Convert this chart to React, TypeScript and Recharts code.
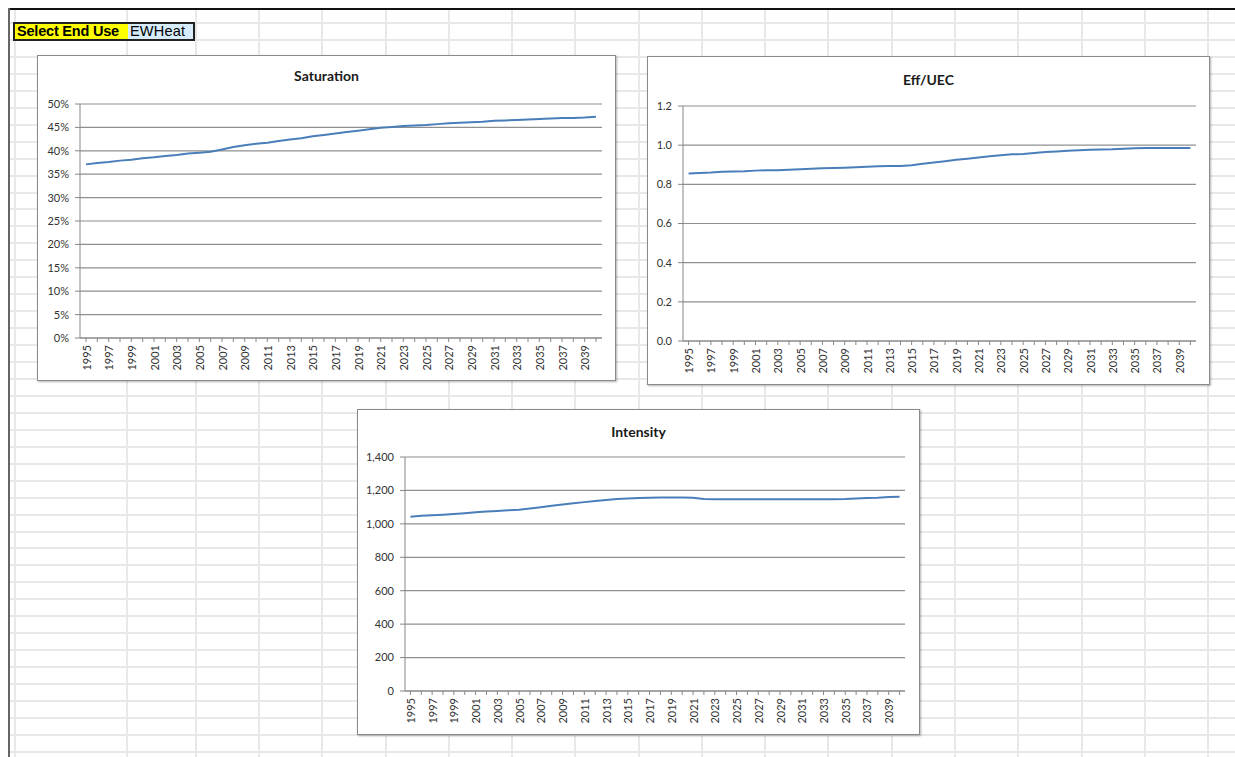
import React from 'react'
import { LineChart, Line, XAxis, YAxis, CartesianGrid } from 'recharts'

const FONT = 'Lato, "Open Sans", sans-serif'

const years = [
  1995, 1996, 1997, 1998, 1999, 2000, 2001, 2002, 2003, 2004,
  2005, 2006, 2007, 2008, 2009, 2010, 2011, 2012, 2013, 2014,
  2015, 2016, 2017, 2018, 2019, 2020, 2021, 2022, 2023, 2024,
  2025, 2026, 2027, 2028, 2029, 2030, 2031, 2032, 2033, 2034,
  2035, 2036, 2037, 2038, 2039, 2040,
]

const saturation = [
  0.371, 0.374, 0.376, 0.379, 0.381, 0.384, 0.386, 0.389, 0.391, 0.394,
  0.396, 0.398, 0.403, 0.408, 0.412, 0.415, 0.417, 0.421, 0.424, 0.427,
  0.431, 0.434, 0.437, 0.440, 0.443, 0.446, 0.449, 0.451, 0.453, 0.454,
  0.455, 0.457, 0.459, 0.460, 0.461, 0.462, 0.464, 0.465, 0.466, 0.467,
  0.468, 0.469, 0.470, 0.470, 0.471, 0.473,
]

const effUec = [
  0.855, 0.858, 0.860, 0.864, 0.866, 0.867, 0.870, 0.872, 0.872, 0.875,
  0.877, 0.879, 0.882, 0.883, 0.885, 0.887, 0.890, 0.892, 0.893, 0.894,
  0.898, 0.905, 0.912, 0.918, 0.925, 0.931, 0.937, 0.943, 0.949, 0.953,
  0.955, 0.960, 0.965, 0.968, 0.971, 0.974, 0.977, 0.978, 0.979, 0.982,
  0.984, 0.985, 0.985, 0.985, 0.985, 0.985,
]

const intensity = [
  1043, 1048, 1051, 1055, 1059, 1064, 1070, 1074, 1077, 1081,
  1085, 1092, 1100, 1108, 1116, 1123, 1130, 1137, 1143, 1148,
  1151, 1154, 1156, 1157, 1157, 1157, 1156, 1149, 1147, 1147,
  1147, 1147, 1147, 1147, 1147, 1147, 1147, 1147, 1147, 1147,
  1148, 1152, 1155, 1156, 1160, 1162,
]

const saturationTicks = [0, 0.05, 0.1, 0.15, 0.2, 0.25, 0.3, 0.35, 0.4, 0.45, 0.5]
const effTicks = [0, 0.2, 0.4, 0.6, 0.8, 1.0, 1.2]
const intensityTicks = [0, 200, 400, 600, 800, 1000, 1200, 1400]

const AXIS = '#868686'
const GRID = '#8f8f8f'
const LINE = '#4a7ebb'
const LABEL = '#333'

// rotated year labels, only every other year gets text
function YearTick(props: any) {
  const { x, y, payload } = props
  const yr = Number(payload.value)
  if ((yr - 1995) % 2 !== 0) return <g />
  return (
    <text
      x={x}
      y={y}
      transform={`rotate(-90 ${x} ${y})`}
      textAnchor="end"
      dominantBaseline="central"
      fontSize={11}
      fontFamily={FONT}
      fill={LABEL}
    >
      {yr}
    </text>
  )
}

interface PanelProps {
  x: number
  y: number
  w: number
  h: number
  title: string
  titleY: number
  values: number[]
  ticks: number[]
  fmt: (v: number) => string
  yw: number
  mt: number
  mr: number
  xh: number
  pad: number
}

function Panel({ x, y, w, h, title, titleY, values, ticks, fmt, yw, mt, mr, xh, pad }: PanelProps) {
  const data = years.map((yr, i) => ({ year: yr, v: values[i] }))
  return (
    <div style={{ position: 'absolute', left: x, top: y, width: w, height: h, background: '#fff' }}>
      <div style={{ position: 'absolute', left: 0, top: 0 }}>
        <LineChart width={w} height={h} data={data} margin={{ top: mt, right: mr, left: 0, bottom: 0 }}>
          <CartesianGrid vertical={false} stroke={GRID} strokeWidth={1.2} />
          <XAxis
            dataKey="year"
            height={xh}
            interval={0}
            tickSize={4}
            tickMargin={3}
            padding={{ left: pad, right: pad }}
            axisLine={{ stroke: AXIS }}
            tickLine={{ stroke: AXIS }}
            tick={(p: any) => <YearTick {...p} />}
          />
          <YAxis
            width={yw}
            domain={[ticks[0], ticks[ticks.length - 1]]}
            ticks={ticks}
            interval={0}
            tickFormatter={fmt}
            tickSize={5}
            tickMargin={6}
            axisLine={{ stroke: AXIS }}
            tickLine={{ stroke: AXIS }}
            tick={{ fontSize: 11, fill: LABEL, fontFamily: FONT }}
          />
          <Line type="linear" dataKey="v" stroke={LINE} strokeWidth={2} dot={false} isAnimationActive={false} />
        </LineChart>
      </div>
      <div
        style={{
          position: 'absolute',
          left: 0,
          width: '100%',
          top: titleY,
          lineHeight: '18px',
          textAlign: 'center',
          fontWeight: 700,
          fontSize: 14,
          fontFamily: FONT,
          color: '#1a1a1a',
        }}
      >
        {title}
      </div>
      <div
        style={{
          position: 'absolute',
          inset: 0,
          border: '1px solid #8a8a8a',
          boxShadow: '1px 1px 2px rgba(0,0,0,0.3)',
          pointerEvents: 'none',
        }}
      />
    </div>
  )
}

// spreadsheet cell grid behind the charts
const rowLines = Array.from({ length: 44 }, (_, i) => 22 + i * 16.95)
const colLines = [14, 126, 195, ...Array.from({ length: 16 }, (_, i) => 258 + i * 63.27)]

export default function App() {
  return (
    <div style={{ position: 'absolute', left: 0, top: 0, width: 1235, height: 757, background: '#fff', overflow: 'hidden' }}>
      {rowLines.map((ry) => (
        <div key={'r' + ry} style={{ position: 'absolute', left: 9, right: 0, top: ry, height: 2, background: '#e8e8e8' }} />
      ))}
      {colLines.map((cx) => (
        <div key={'c' + cx} style={{ position: 'absolute', top: 9, bottom: 0, left: cx, width: 2, background: '#e8e8e8' }} />
      ))}
      <div style={{ position: 'absolute', left: 8, right: 0, top: 8, height: 2, background: '#111' }} />
      <div style={{ position: 'absolute', left: 8, top: 8, bottom: 0, width: 2, background: '#666' }} />

      <div
        style={{
          position: 'absolute',
          left: 13,
          top: 22,
          width: 182,
          height: 19,
          border: '2px solid #222',
          boxSizing: 'border-box',
          display: 'flex',
          fontFamily: '"Liberation Sans", Arial, sans-serif',
          fontSize: 14.5,
          lineHeight: '15px',
          color: '#000',
        }}
      >
        <div style={{ width: 111, background: '#ffff00', fontWeight: 700, paddingLeft: 2, whiteSpace: 'nowrap', letterSpacing: -0.2 }}>
          Select End Use
        </div>
        <div style={{ flex: 1, background: '#d6ecfa', paddingLeft: 2, letterSpacing: 0.2 }}>EWHeat</div>
      </div>

      <Panel
        x={37} y={55} w={579} h={326}
        title="Saturation" titleY={12}
        values={saturation} ticks={saturationTicks}
        fmt={(v) => Math.round(v * 100) + '%'}
        yw={43} mt={49} mr={14} xh={43} pad={6}
      />
      <Panel
        x={647} y={56} w={563} h={329}
        title="Eff/UEC" titleY={15}
        values={effUec} ticks={effTicks}
        fmt={(v) => v.toFixed(1)}
        yw={36} mt={50} mr={14} xh={44} pad={5.6}
      />
      <Panel
        x={357} y={409} w={563} h={326}
        title="Intensity" titleY={14}
        values={intensity} ticks={intensityTicks}
        fmt={(v) => v.toLocaleString('en-US')}
        yw={48} mt={48} mr={15} xh={44} pad={5.4}
      />
    </div>
  )
}
